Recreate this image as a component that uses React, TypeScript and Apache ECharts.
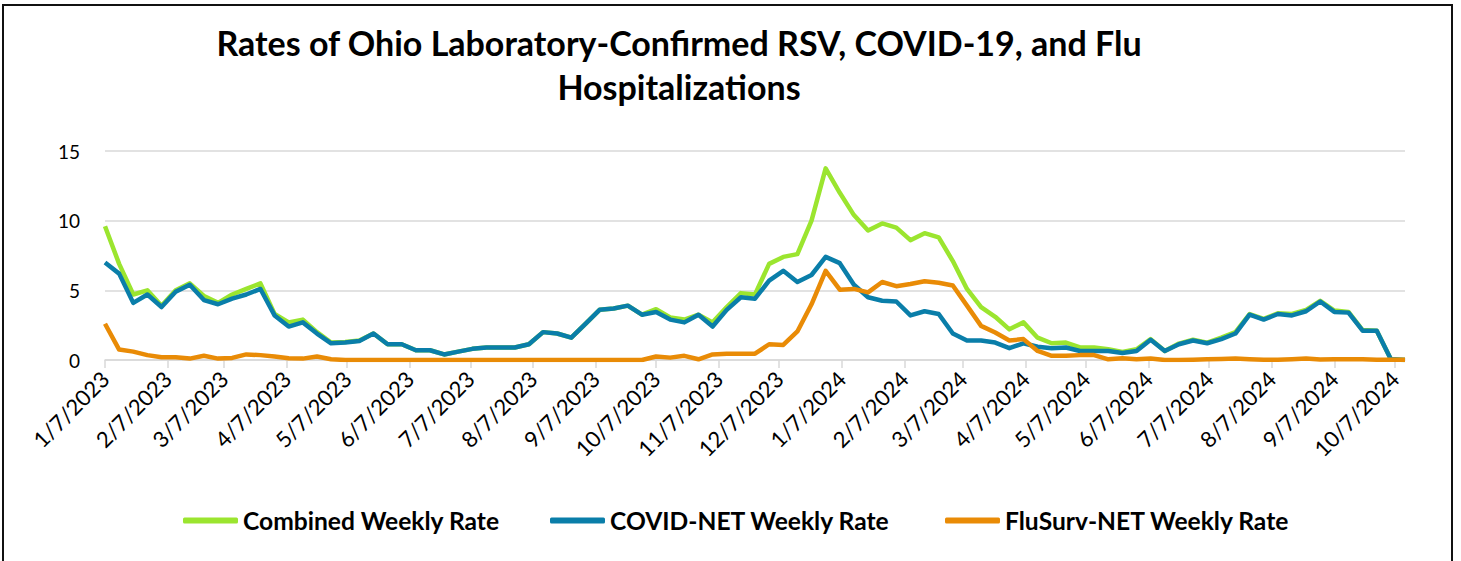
import React, { useEffect, useRef } from "react";
import * as echarts from "echarts";

const START = { y: 2023, m: 1, d: 7 };
const TOTAL_DAYS = 645;

const seriesNames = ["Combined Weekly Rate", "COVID-NET Weekly Rate", "FluSurv-NET Weekly Rate"];
const seriesColors = ["#9BE52F", "#0A7EA9", "#E98B06"];

const combined = [
  9.6, 6.9, 4.7, 5.0, 3.9, 5.0, 5.5, 4.6, 4.1, 4.7, 5.1, 5.5, 3.3, 2.7, 2.9, 2.0, 1.25, 1.3, 1.4, 1.9,
  1.13, 1.13, 0.7, 0.7, 0.4, 0.6, 0.8, 0.9, 0.9, 0.9, 1.13, 2.0, 1.9, 1.6, 2.6, 3.6, 3.7, 3.9, 3.25, 3.65,
  3.05, 2.9, 3.25, 2.7, 3.8, 4.8, 4.7, 6.9, 7.4, 7.6, 10.0, 13.75, 12.0, 10.4, 9.3, 9.8, 9.5, 8.6, 9.1, 8.8,
  7.1, 5.1, 3.8, 3.1, 2.2, 2.7, 1.6, 1.2, 1.25, 0.9, 0.9, 0.77, 0.58, 0.77, 1.5, 0.65, 1.18, 1.45, 1.25, 1.6,
  2.0, 3.3, 2.95, 3.35, 3.3, 3.6, 4.25, 3.55, 3.45, 2.15, 2.1, 0.05, 0,
];

const covid = [
  7.0, 6.2, 4.1, 4.7, 3.8, 4.9, 5.4, 4.3, 4.0, 4.4, 4.7, 5.1, 3.2, 2.4, 2.7, 1.9, 1.2, 1.25, 1.37, 1.9,
  1.13, 1.13, 0.7, 0.7, 0.4, 0.6, 0.8, 0.9, 0.9, 0.9, 1.13, 2.0, 1.9, 1.6, 2.6, 3.6, 3.7, 3.9, 3.25, 3.45,
  2.9, 2.7, 3.25, 2.4, 3.6, 4.5, 4.4, 5.7, 6.4, 5.6, 6.1, 7.4, 6.95, 5.4, 4.5, 4.25, 4.2, 3.2, 3.5, 3.3,
  1.9, 1.4, 1.4, 1.25, 0.85, 1.2, 0.95, 0.85, 0.9, 0.65, 0.65, 0.65, 0.5, 0.65, 1.45, 0.65, 1.13, 1.4, 1.2, 1.5,
  1.9, 3.25, 2.9, 3.3, 3.2, 3.5, 4.2, 3.45, 3.4, 2.1, 2.1, 0.05, 0,
];

const flu = [
  2.6, 0.75, 0.6, 0.35, 0.2, 0.2, 0.1, 0.3, 0.1, 0.15, 0.4, 0.35, 0.25, 0.12, 0.1, 0.25, 0.05, 0, 0, 0,
  0, 0, 0, 0, 0, 0, 0, 0, 0, 0, 0, 0, 0, 0, 0, 0, 0, 0, 0, 0.25,
  0.17, 0.3, 0.05, 0.4, 0.45, 0.45, 0.45, 1.13, 1.08, 2.05, 4.0, 6.4, 5.05, 5.1, 4.85, 5.6, 5.3, 5.45, 5.65, 5.55,
  5.35, 3.9, 2.45, 1.97, 1.4, 1.5, 0.65, 0.3, 0.3, 0.35, 0.35, 0.05, 0.12, 0.05, 0.1, 0, 0, 0.02, 0.05, 0.08,
  0.1, 0.05, 0.02, 0.02, 0.05, 0.1, 0.03, 0.05, 0.05, 0.05, 0.02, 0.02, 0.02,
];

const yTicks = { min: 0, max: 15, interval: 5 };

function buildDays(): string[] {
  const out: string[] = [];
  const base = Date.UTC(START.y, START.m - 1, START.d);
  for (let i = 0; i < TOTAL_DAYS; i++) {
    const dt = new Date(base + i * 86400000);
    out.push(`${dt.getUTCMonth() + 1}/${dt.getUTCDate()}/${dt.getUTCFullYear()}`);
  }
  return out;
}

const FONT = "Lato";

export default function App() {
  const ref = useRef<HTMLDivElement>(null);

  useEffect(() => {
    if (!ref.current) return;
    const chart = echarts.init(ref.current, undefined, { renderer: "svg" });
    const days = buildDays();
    const isMonthTick = (_i: number, v: string) => String(v).split("/")[1] === "7";
    const toPairs = (arr: number[]) => arr.map((v, i) => [days[i * 7], v]);

    chart.setOption({
      animation: false,
      backgroundColor: "transparent",
      graphic: [
        {
          type: "text",
          x: 679,
          y: 42,
          style: {
            text: "Rates of Ohio Laboratory-Confirmed RSV, COVID-19, and Flu",
            font: `bold 34px ${FONT}`,
            fill: "#000",
            textAlign: "center",
            textVerticalAlign: "middle",
          },
        },
        {
          type: "text",
          x: 679,
          y: 86,
          style: {
            text: "Hospitalizations",
            font: `bold 34px ${FONT}`,
            fill: "#000",
            textAlign: "center",
            textVerticalAlign: "middle",
          },
        },
      ],
      legend: seriesNames.map((name, i) => ({
        data: [name],
        left: [178, 545, 940][i],
        top: 503,
        padding: 5,
        icon: "roundRect",
        itemWidth: 55,
        itemHeight: 6,
        textStyle: { fontFamily: FONT, fontWeight: "bold", fontSize: 24.6, color: "#000" },
      })),
      grid: { left: 105, right: 56, top: 151, bottom: 201, containLabel: false },
      xAxis: {
        type: "category",
        data: days,
        boundaryGap: false,
        axisLine: { lineStyle: { color: "#d9d9d9", width: 1.5 } },
        axisTick: { show: true, interval: isMonthTick, length: 8, lineStyle: { color: "#d9d9d9", width: 1.5 } },
        axisLabel: {
          interval: isMonthTick,
          rotate: 45,
          margin: 15,
          fontFamily: FONT,
          fontSize: 22,
          color: "#000",
        },
        splitLine: { show: false },
      },
      yAxis: {
        type: "value",
        min: yTicks.min,
        max: yTicks.max,
        interval: yTicks.interval,
        axisLine: { show: false },
        axisTick: { show: false },
        axisLabel: { fontFamily: FONT, fontSize: 19, color: "#000", margin: 25 },
        splitLine: { lineStyle: { color: "#d9d9d9", width: 1.5 } },
      },
      series: [combined, covid, flu].map((arr, i) => ({
        name: seriesNames[i],
        type: "line",
        data: toPairs(arr),
        symbol: "none",
        showSymbol: false,
        color: seriesColors[i],
        lineStyle: { width: 4.5, color: seriesColors[i], join: "round" },
        z: 2 + i,
      })),
    });

    return () => chart.dispose();
  }, []);

  return (
    <div style={{ position: "absolute", left: 0, top: 0, width: 1461, height: 561, overflow: "hidden", background: "#fff" }}>
      <div
        style={{
          position: "absolute",
          left: 2,
          top: 4,
          width: 1451,
          height: 640,
          border: "2px solid #111",
          boxSizing: "border-box",
        }}
      />
      <div ref={ref} style={{ position: "absolute", left: 0, top: 0, width: 1461, height: 561 }} />
    </div>
  );
}
